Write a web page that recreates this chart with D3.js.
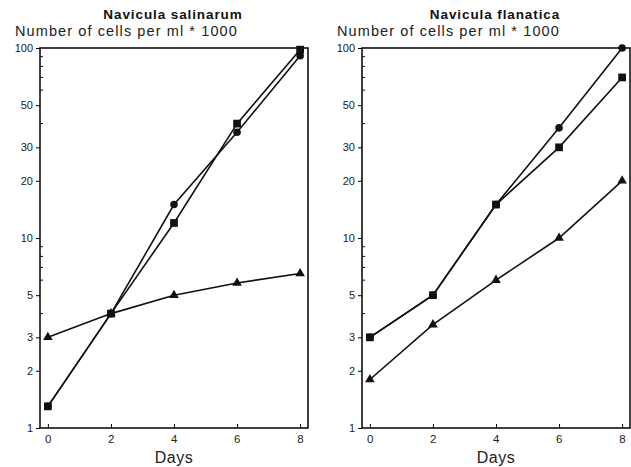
<!DOCTYPE html>
<html>
<head>
<meta charset="utf-8">
<script src="https://cdn.jsdelivr.net/npm/d3@7"></script>
<style>
    body { margin: 0; background: #fff; }
    svg { font-family: 'Liberation Sans', Arial, sans-serif; }
    .line { fill: none; stroke: #111; stroke-width: 1.6px; }
</style>
</head>
<body>
<svg id="chart" width="631" height="467"></svg>
<script>
// days on the x axis
var days = [0, 2, 4, 6, 8];

// Navicula salinarum (cells per ml * 1000)
var salinarumCircle = [1.3, 4, 15, 36, 91];
var salinarumSquare = [1.3, 4, 12, 40, 98];
var salinarumTriangle = [3, 4, 5, 5.8, 6.5];

// Navicula flanatica
var flanaticaCircle = [3, 5, 15, 38, 100];
var flanaticaSquare = [3, 5, 15, 30, 70];
var flanaticaTriangle = [1.8, 3.5, 6, 10, 20];

var yTicks = [1, 2, 3, 5, 10, 20, 30, 50, 100];
var yMinor = [4, 6, 7, 8, 9, 40, 60, 70, 80, 90];
var xTicks = [0, 2, 4, 6, 8];

var panels = [
    { title: "Navicula salinarum", left: 40, series: [
        { shape: "circle", values: salinarumCircle },
        { shape: "square", values: salinarumSquare },
        { shape: "triangle", values: salinarumTriangle }] },
    { title: "Navicula flanatica", left: 362, series: [
        { shape: "circle", values: flanaticaCircle },
        { shape: "square", values: flanaticaSquare },
        { shape: "triangle", values: flanaticaTriangle }] }
];

var svg = d3.select("#chart");
var plotWidth = 268, plotTop = 48, plotBottom = 428;

panels.forEach(function (p) {
    var g = svg.append("g").attr("transform", `translate(${p.left},0)`);

    var x = d3.scaleLinear().domain([-0.25, 8.25]).range([0, plotWidth]);
    var y = d3.scaleLog().domain([1, 100]).range([plotBottom, plotTop]);

    // frame
    g.append("rect")
        .attr("x", 0).attr("y", plotTop)
        .attr("width", plotWidth).attr("height", plotBottom - plotTop)
        .attr("fill", "none").attr("stroke", "#111").attr("stroke-width", 1.6);

    // y axis
    var yAxis = g.append("g")
        .call(d3.axisLeft(y).tickValues(yTicks).tickFormat(d3.format("d")).tickSize(4).tickPadding(3));
    yAxis.select(".domain").remove();
    yAxis.selectAll("text").style("font-size", "11px").attr("fill", "#222");

    g.selectAll(".minor").data(yMinor).enter().append("line")
        .attr("x1", 0).attr("x2", 3)
        .attr("y1", d => y(d)).attr("y2", d => y(d))
        .attr("stroke", "#111").attr("stroke-width", 1);

    // x axis (ticks point inward)
    var xAxis = g.append("g")
        .attr("transform", `translate(0,${plotBottom})`)
        .call(d3.axisBottom(x).tickValues(xTicks).tickSizeInner(-4).tickSizeOuter(0).tickPadding(7));
    xAxis.select(".domain").remove();
    xAxis.selectAll("text").style("font-size", "11.5px").style("letter-spacing", "0.5px").attr("fill", "#222");

    g.append("text")
        .attr("x", (x(0) + x(8)) / 2).attr("y", 463)
        .attr("text-anchor", "middle")
        .style("font-size", "16px").style("letter-spacing", "0.5px").attr("fill", "#222")
        .text("Days");

    // titles
    g.append("text")
        .attr("x", plotWidth / 2 - 1).attr("y", 19)
        .attr("text-anchor", "middle")
        .style("font-size", "13.5px").style("font-weight", "bold")
        .style("letter-spacing", "0.9px").attr("fill", "#111")
        .text(p.title);

    g.append("text")
        .attr("x", -25).attr("y", 36)
        .style("font-size", "14.5px").style("letter-spacing", "1.1px").attr("fill", "#222")
        .text("Number of cells per ml * 1000");

    var line = d3.line()
        .x((d, i) => x(days[i]))
        .y(d => y(d));

    p.series.forEach(function (s) {
        g.append("path")
            .datum(s.values)
            .attr("class", "line")
            .attr("d", line);
    });

    p.series.forEach(function (s) {
        var sym = s.shape === "circle" ? d3.symbolCircle
            : s.shape === "square" ? d3.symbolSquare : d3.symbolTriangle;
        var size = s.shape === "circle" ? 45 : s.shape === "square" ? 60 : 40;

        g.selectAll(".pt-" + s.shape).data(s.values).enter().append("path")
            .attr("class", "pt-" + s.shape)
            .attr("d", d3.symbol().type(sym).size(size))
            .attr("transform", (d, i) => `translate(${x(days[i])},${y(d)})`)
            .attr("fill", "#111");
    });
});
</script>
</body>
</html>
